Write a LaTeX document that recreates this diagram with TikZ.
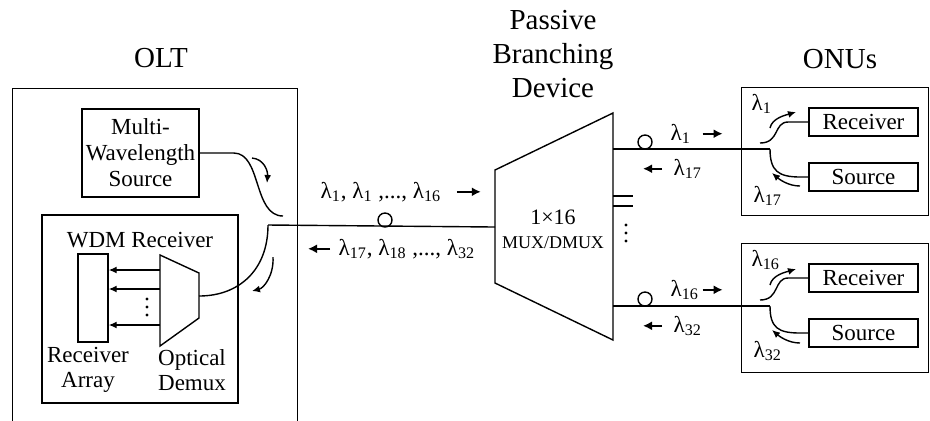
\documentclass[tikz,border=0pt]{standalone}
\usepackage{fontspec}
\setmainfont{Liberation Serif}
\usepackage{tikz}
\usetikzlibrary{positioning,arrows.meta}

\newcommand{\lam}[1]{λ\textsubscript{#1}}

\begin{document}
\begin{tikzpicture}[
    x=0.5pt, y=-0.5pt,
    line width=0.7pt,
    box/.style={
        draw,
        rectangle,
        inner sep=0pt,
        align=center,
        font=\fontsize{11.5}{13}\selectfont
    },
    frame/.style={
        draw,
        rectangle,
        inner sep=0pt,
        anchor=north west
    },
    title/.style={
        align=center,
        font=\fontsize{14.5}{17}\selectfont
    },
    lbl/.style={
        inner sep=0pt,
        align=center,
        font=\fontsize{11.5}{12.5}\selectfont
    },
    arrow/.style={
        -{Latex[length=4pt,width=3.5pt]}
    },
    sarrow/.style={
        -{Latex[length=4.5pt,width=4.5pt]},
        line width=1.1pt
    }
]
\useasboundingbox (0,0) rectangle (930,420);

% headings
\node[title] (oltT) at (161,58) {OLT};
\node[title] (pbdT) at (553,54) {Passive\\Branching\\Device};
\node[title] (onuT) at (840,59) {ONUs};

% OLT
\node[frame, minimum width=142.5pt, minimum height=175pt] (olt) at (12,88) {};
\node[box, minimum width=58.5pt, minimum height=44pt] (mws) at (140.5,153) {Multi-\\Wavelength\\Source};
\node[draw, minimum width=98pt, minimum height=94pt] (wdm) at (140,309) {};
\node[lbl] (wdmT) at (140,240) {WDM Receiver};
\node[draw, minimum width=15pt, minimum height=44pt] (rxa) at (93,298) {};
\node[lbl] (rxaL) at (88,370) {Receiver\\Array};
\node[lbl] (dmxL) at (192,370) {Optical\\Demux};

\draw (160,255) -- (199,273) -- (199,318) -- (160,346) -- cycle;
\coordinate (dmxE) at (199,296);
\coordinate (d1) at (160,270);
\coordinate (d2) at (160,289);
\coordinate (d3) at (160,325);
\draw[arrow] (d1) -- (d1 -| rxa.east);
\draw[arrow] (d2) -- (d2 -| rxa.east);
\draw[arrow] (d3) -- (d3 -| rxa.east);
\fill (147,299) circle (1.6);
\fill (147,307) circle (1.6);
\fill (147,315) circle (1.6);

% coupler in the OLT
\coordinate (cplS) at (283,216);
\coordinate (cplT) at (268,225);
\draw (mws.east) -- ++(34,0) .. controls +(28,0) and +(-30,0) .. (cplS);
\draw (cplT) .. controls +(0,45) and +(40,0) .. (dmxE);

\coordinate (oa1) at (252,158);
\coordinate (oa2) at (267,183);
\draw[arrow] (oa1) .. controls +(12,1) and +(1,-12) .. (oa2);
\coordinate (ob1) at (273,257);
\coordinate (ob2) at (252,291);
\draw[arrow] (ob1) .. controls +(1,18) and +(12,-3) .. (ob2);

% feeder fiber
\draw (495,170) -- (613,113) -- (613,340) -- (495,283) -- cycle;
\coordinate (muxW) at (495,227);
\coordinate (muxO1) at (613,149);
\coordinate (muxO2) at (613,306);
\node[font=\fontsize{11}{13}\selectfont] (muxN) at (553,217) {1×16};
\node[font=\fontsize{9}{11}\selectfont] (muxT) at (553,243) {MUX/DMUX};

\draw (cplT) -- (muxW);
\draw (385,220) circle (7);
\node[lbl, anchor=base west] (dnL) at (320,198) {\lam{1}, \lam{1} ,..., \lam{16}};
\draw[sarrow] (dnL.east) ++(15,0) -- ++(24,0);
\node[lbl, anchor=base west] (upL) at (338,255) {\lam{17}, \lam{18} ,..., \lam{32}};
\draw[sarrow] (upL.west) ++(-8,0) -- ++(-22,0);

% other ports
\draw (613,196) -- (633,196);
\draw (613,206) -- (633,206);
\fill (626,225) circle (1.6);
\fill (626,233) circle (1.6);
\fill (626,241) circle (1.6);

% ONU 1
\node[frame, minimum width=93.5pt, minimum height=64pt] (onu1) at (741,87) {};
\node[box, minimum width=54.5pt, minimum height=14pt] (rx1) at (863.5,122) {Receiver};
\node[box, minimum width=54.5pt, minimum height=14pt] (src1) at (863.5,177) {Source};
\coordinate (sp1) at (770,149);
\coordinate (tp1) at (760,143);
\draw (muxO1) -- (sp1);
\draw (645,142) circle (7);
\draw (tp1) .. controls +(20,0) and +(-15,0) .. ([xshift=-10pt]rx1.west) -- (rx1.west);
\draw (sp1) .. controls +(0,22) and +(-22,0) .. ([xshift=-4pt]src1.west) -- (src1.west);
\coordinate (a1s) at (770,128);
\coordinate (a1e) at (796,112);
\draw[arrow] (a1s) .. controls +(2,-10) and +(-10,3) .. (a1e);
\coordinate (b1s) at (800,186);
\coordinate (b1e) at (772,173);
\draw[arrow] (b1s) .. controls +(-12,0) and +(7,6) .. (b1e);
\node[lbl, anchor=base west] (l1a) at (751,110) {\lam{1}};
\node[lbl, anchor=base west] (l1b) at (753,202) {\lam{17}};
\node[lbl, anchor=base west] (o1L) at (670,140) {\lam{1}};
\draw[sarrow] (o1L.east) ++(11,0) -- ++(20,0);
\node[lbl, anchor=base west] (o17L) at (673,175) {\lam{17}};
\draw[sarrow] (o17L.west) ++(-11,0) -- ++(-19,0);

% ONU 16
\node[frame, minimum width=93.5pt, minimum height=64.5pt] (onu2) at (741,243) {};
\node[box, minimum width=54.5pt, minimum height=14pt] (rx2) at (863.5,278) {Receiver};
\node[box, minimum width=54.5pt, minimum height=14pt] (src2) at (863.5,333) {Source};
\coordinate (sp2) at (770,306);
\coordinate (tp2) at (760,300);
\draw (muxO2) -- (sp2);
\draw (645,299) circle (7);
\draw (tp2) .. controls +(20,0) and +(-15,0) .. ([xshift=-10pt]rx2.west) -- (rx2.west);
\draw (sp2) .. controls +(0,22) and +(-22,0) .. ([xshift=-4pt]src2.west) -- (src2.west);
\coordinate (a2s) at (770,285);
\coordinate (a2e) at (796,269);
\draw[arrow] (a2s) .. controls +(2,-10) and +(-10,3) .. (a2e);
\coordinate (b2s) at (800,343);
\coordinate (b2e) at (772,330);
\draw[arrow] (b2s) .. controls +(-12,0) and +(7,6) .. (b2e);
\node[lbl, anchor=base west] (l2a) at (751,266) {\lam{16}};
\node[lbl, anchor=base west] (l2b) at (753,357) {\lam{32}};
\node[lbl, anchor=base west] (o16L) at (670,296) {\lam{16}};
\draw[sarrow] (o16L.east) ++(3,0) -- ++(20,0);
\node[lbl, anchor=base west] (o32L) at (673,332) {\lam{32}};
\draw[sarrow] (o32L.west) ++(-11,0) -- ++(-19,0);

\end{tikzpicture}
\end{document}
